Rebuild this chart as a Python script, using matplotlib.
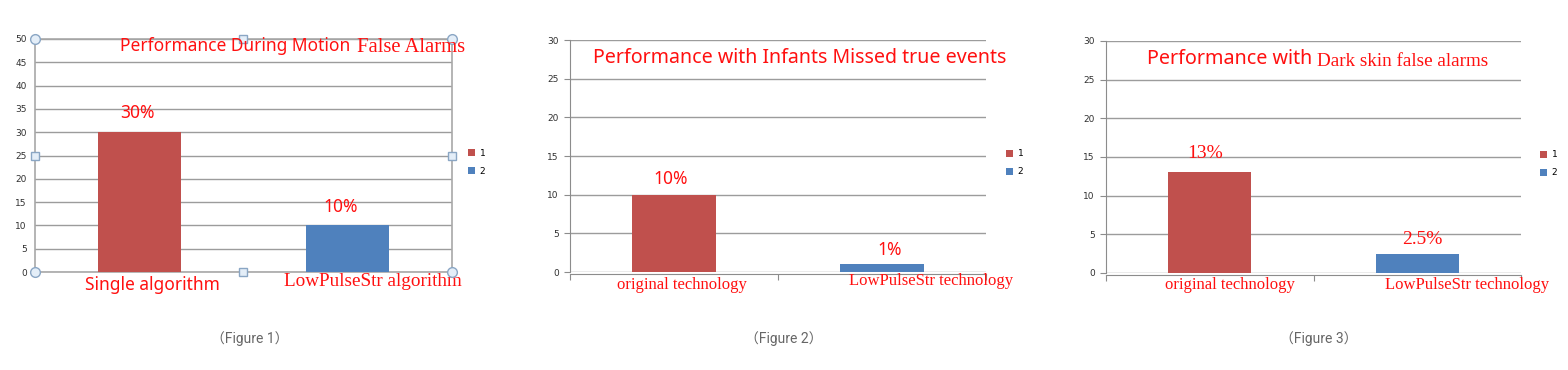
import matplotlib.pyplot as plt

# data
legend_labels = ['1', '2']
bar_colors = ['#C0504D', '#4F81BD']

cats1 = ['Single algorithm', 'LowPulseStr algorithm']
vals1 = [30, 10]
pct1 = ['30%', '10%']

cats2 = ['original technology', 'LowPulseStr technology']
vals2 = [10, 1]
pct2 = ['10%', '1%']

cats3 = ['original technology', 'LowPulseStr technology']
vals3 = [13, 2.5]
pct3 = ['13%', '2.5%']

captions = ['（Figure 1）', '（Figure 2）', '（Figure 3）']

W, H = 1568, 370
RED = '#FF1010'
SANS = ['Noto Sans', 'DejaVu Sans']
SERIF = ['Liberation Serif', 'DejaVu Serif']
CAP = ['Roboto', 'Noto Sans CJK SC']

fig = plt.figure(figsize=(W / 100, H / 100), dpi=100)


def px_axes(left, top, right, bottom):
    return fig.add_axes([left / W, 1 - bottom / H, (right - left) / W, (bottom - top) / H])


def px_text(x, y, s, **kw):
    fig.text(x / W, 1 - y / H, s, **kw)


def draw_panel(ax, cats, vals, pcts, ymax, pct_off, pct_font, pct_size,
               lab_off, lab_fonts, lab_sizes, leg_dx):
    x = range(len(cats))
    bars = ax.bar(x, vals, width=0.4, color=bar_colors, zorder=3)
    ax.set_xlim(-0.5, 1.5)
    ax.set_ylim(0, ymax)
    ax.set_yticks(range(0, ymax + 1, 5))
    ax.yaxis.grid(True, color='#9c9c9c', lw=1)
    ax.set_axisbelow(True)
    for lab in ax.get_yticklabels():
        lab.set_fontsize(6.5)
        lab.set_color('#303030')
    for i, p in enumerate(pcts):
        ax.annotate(p, xy=(i, vals[i]), xytext=pct_off[i], textcoords='offset pixels',
                    ha='center', va='center', color=RED, fontsize=pct_size, family=pct_font)
    for i, c in enumerate(cats):
        ax.annotate(c, xy=(i, 0), xycoords=('data', 'axes fraction'), xytext=lab_off[i],
                    textcoords='offset pixels', ha='center', va='center', color=RED,
                    fontsize=lab_sizes[i], family=lab_fonts[i], annotation_clip=False)
    ax.legend(bars, legend_labels, loc='center left',
              bbox_to_anchor=(1 + leg_dx / ax.bbox.width, 0.47), frameon=False,
              fontsize=6.5, handlelength=0.8, handleheight=0.8, handletextpad=0.5,
              labelspacing=1.0, borderpad=0, borderaxespad=0)


# ---- panel 1 ----
ax1 = px_axes(35, 39, 452, 272)
draw_panel(ax1, cats1, vals1, pct1, 50,
           [(-2, 19), (-7, 18)], SANS, 12.5,
           [(13, -13), (25, -10)], [SANS, SERIF], [12.5, 13.8], 16)
for s in ax1.spines.values():
    s.set_color('#a8a8a8')
    s.set_linewidth(1.2)
ax1.tick_params(axis='y', length=0, pad=6)
ax1.set_xticks([])
# selection handles around the plot area
ax1.plot([0, 1, 0, 1], [0, 0, 1, 1], 'o', ms=7, mfc='#e4eef8', mec='#8aa6c4', mew=1,
         transform=ax1.transAxes, clip_on=False, zorder=5)
ax1.plot([0.5, 0.5, 0, 1], [0, 1, 0.5, 0.5], 's', ms=5.5, mfc='#e4eef8', mec='#8aa6c4', mew=1,
         transform=ax1.transAxes, clip_on=False, zorder=5)
px_text(120, 46, 'Performance During Motion', family=SANS, fontsize=12.5, color=RED,
        ha='left', va='center')
px_text(357, 47, 'False Alarms', family=SERIF, fontsize=14.9, color=RED, ha='left', va='center')

# ---- panel 2 ----
ax2 = px_axes(570, 40, 986, 272)
draw_panel(ax2, cats2, vals2, pct2, 30,
           [(-3, 16), (8, 14)], SANS, 12.5,
           [(8, -13), (49, -9)], [SERIF, SERIF], [12, 12], 20)
px_text(593, 58, 'Performance with Infants Missed true events', family=SANS, fontsize=14.1,
        color=RED, ha='left', va='center')

# ---- panel 3 ----
ax3 = px_axes(1106, 41, 1521, 273)
draw_panel(ax3, cats3, vals3, pct3, 30,
           [(-5, 19), (5, 14)], SERIF, 14,
           [(20, -12), (50, -12)], [SERIF, SERIF], [12, 12], 19)
px_text(1147, 59, 'Performance with', family=SANS, fontsize=14.2, color=RED,
        ha='left', va='center')
px_text(1317, 62, 'Dark skin false alarms', family=SERIF, fontsize=13.8, color=RED,
        ha='left', va='center')

for ax in (ax2, ax3):
    ax.spines[['top', 'right']].set_visible(False)
    ax.spines['left'].set_color('#8c8c8c')
    ax.spines['bottom'].set_color('#8c8c8c')
    ax.spines['bottom'].set_position(('outward', 1.5))
    ax.tick_params(axis='y', length=4, color='#8c8c8c', pad=4)
    ax.set_xticks([-0.5, 0.5, 1.5])
    ax.set_xticklabels([])
    ax.tick_params(axis='x', length=4, color='#8c8c8c')

# captions under each chart
for cx, cap in zip([250, 784, 1319], captions):
    px_text(cx, 339, cap, family=CAP, fontsize=10, color='#666666', ha='center', va='center')

fig.savefig('out.png', dpi=100)
